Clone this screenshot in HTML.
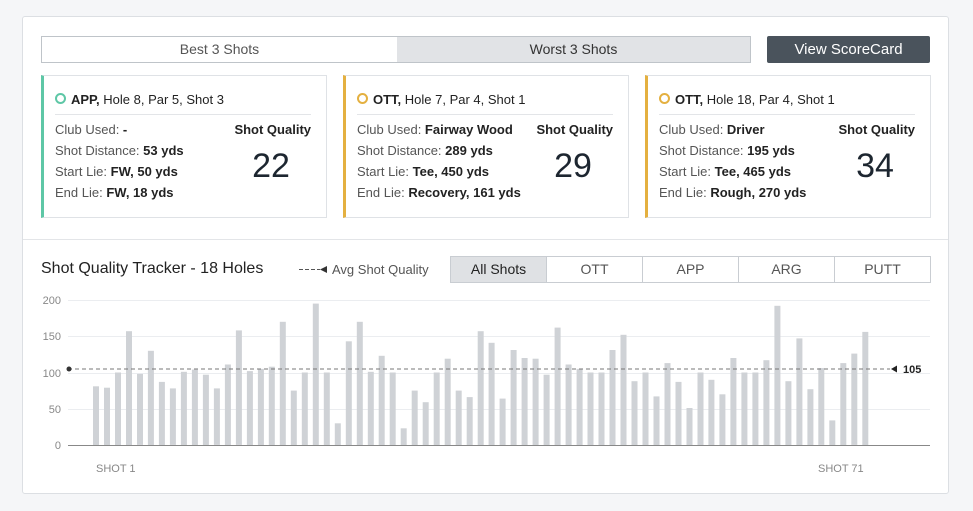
<!DOCTYPE html>
<html><head><meta charset="utf-8"><style>
body{margin:0;width:973px;height:511px;background:#f5f6f8;font-family:"Liberation Sans",sans-serif;position:relative;overflow:hidden;color:#333}
.a{position:absolute}
.card{position:absolute;left:22px;top:16px;width:925px;height:476px;background:#fff;border:1px solid #dcdfe3;border-radius:3px}
.sc{position:absolute;top:75px;width:282px;height:141px;background:#fff;border:1px solid #dfe2e6}
.sc .t{position:absolute;left:11px;top:16px;font-size:13px;color:#222}
.sc .t i{display:inline-block;width:7px;height:7px;border-radius:50%;border:2px solid;margin-right:5px;vertical-align:0px}
.sc .hr{position:absolute;left:11px;right:15px;top:38px;border-top:1px solid #e3e5e8}
.sc .r{position:absolute;left:11px;font-size:13px;color:#555}
.sc .r b{color:#222}
.sc .q{position:absolute;right:15px;top:46px;font-size:13px;font-weight:bold;color:#222}
.sc .n{position:absolute;right:15px;width:80px;text-align:center;top:71px;font-size:34px;color:#1d2630}
.tab{position:absolute;top:256px;height:25px;width:95px;border:1px solid #c9cdd2;font-size:14px;color:#555;text-align:center;line-height:25px;background:#fff}
</style></head><body>
<div class="card"></div>
<div class="a" style="left:41px;top:36px;width:355px;height:25px;border:1px solid #bfc4c9;background:#fff;font-size:14px;color:#555;text-align:center;line-height:25px">Best 3 Shots</div>
<div class="a" style="left:397px;top:36px;width:353px;height:25px;border:1px solid #bfc4c9;border-left:none;background:#e1e3e6;font-size:14px;color:#333;text-align:center;line-height:25px">Worst 3 Shots</div>
<div class="a" style="left:767px;top:36px;width:163px;height:27px;background:#4a535c;color:#fff;font-size:15px;text-align:center;line-height:27px;border-radius:2px">View ScoreCard</div>

<div class="sc" style="left:41px;border-left:3px solid #5ec7a6">
<div class="t"><i style="border-color:#5ec7a6"></i><b>APP,</b> Hole 8, Par 5, Shot 3</div><div class="hr"></div>
<div class="r" style="top:46px">Club Used: <b>-</b></div><div class="r" style="top:67px">Shot Distance: <b>53 yds</b></div><div class="r" style="top:88px">Start Lie: <b>FW, 50 yds</b></div><div class="r" style="top:109px">End Lie: <b>FW, 18 yds</b></div>
<div class="q">Shot Quality</div><div class="n">22</div></div>

<div class="sc" style="left:343px;border-left:3px solid #e4b040">
<div class="t"><i style="border-color:#e4b040"></i><b>OTT,</b> Hole 7, Par 4, Shot 1</div><div class="hr"></div>
<div class="r" style="top:46px">Club Used: <b>Fairway Wood</b></div><div class="r" style="top:67px">Shot Distance: <b>289 yds</b></div><div class="r" style="top:88px">Start Lie: <b>Tee, 450 yds</b></div><div class="r" style="top:109px">End Lie: <b>Recovery, 161 yds</b></div>
<div class="q">Shot Quality</div><div class="n">29</div></div>

<div class="sc" style="left:645px;border-left:3px solid #e4b040">
<div class="t"><i style="border-color:#e4b040"></i><b>OTT,</b> Hole 18, Par 4, Shot 1</div><div class="hr"></div>
<div class="r" style="top:46px">Club Used: <b>Driver</b></div><div class="r" style="top:67px">Shot Distance: <b>195 yds</b></div><div class="r" style="top:88px">Start Lie: <b>Tee, 465 yds</b></div><div class="r" style="top:109px">End Lie: <b>Rough, 270 yds</b></div>
<div class="q">Shot Quality</div><div class="n">34</div></div>

<div class="a" style="left:23px;top:239px;width:925px;border-top:1px solid #e3e5e8"></div>
<div class="a" style="left:41px;top:260px;font-size:16px;color:#222">Shot Quality Tracker - 18 Holes</div>
<div class="a" style="left:332px;top:262px;font-size:13px;color:#555">Avg Shot Quality</div>
<div class="tab" style="left:450px;background:#dfe1e4;color:#222">All Shots</div>
<div class="tab" style="left:546px">OTT</div>
<div class="tab" style="left:642px">APP</div>
<div class="tab" style="left:738px">ARG</div>
<div class="tab" style="left:834px">PUTT</div>

<svg class="a" style="left:0;top:0" width="973" height="511" font-family="Liberation Sans, sans-serif">
<line x1="299" x2="320" y1="269.5" y2="269.5" stroke="#555" stroke-dasharray="4,2"/>
<polygon points="320,269.5 327,266 327,273" fill="#333"/>
<g stroke="#ebedf0" stroke-width="1">
<line x1="68" x2="930" y1="300.5" y2="300.5"/><line x1="68" x2="930" y1="336.5" y2="336.5"/><line x1="68" x2="930" y1="373.5" y2="373.5"/><line x1="68" x2="930" y1="409.5" y2="409.5"/></g>
<g font-size="11" fill="#888" text-anchor="end">
<text x="61" y="304">200</text><text x="61" y="340">150</text><text x="61" y="377">100</text><text x="61" y="413">50</text><text x="61" y="449">0</text></g>
<g id="bars" fill="#cfd2d6"></g>
<line x1="68" x2="930" y1="445.5" y2="445.5" stroke="#888"/>
<line x1="68" x2="890" y1="369" y2="369" stroke="#777" stroke-dasharray="4,3"/>
<circle cx="69" cy="369" r="2.5" fill="#333"/>
<polygon points="891,369 897,365.5 897,372.5" fill="#222"/>
<text x="903" y="373" font-size="11" font-weight="bold" fill="#222">105</text>
<g font-size="11" fill="#888"><text x="96" y="472">SHOT 1</text><text x="818" y="472">SHOT 71</text></g>
</svg>
<script>
var v=[81,79,100,157,98,130,87,78,101,104,97,78,111,158,102,105,108,170,75,100,195,100,30,143,170,101,123,100,23,75,59,100,119,75,66,157,141,64,131,120,119,97,162,111,105,100,100,131,152,88,100,67,113,87,51,100,90,70,120,100,100,117,192,88,147,77,106,34,113,126,156];
var g=document.getElementById('bars'),s='';
for(var i=0;i<v.length;i++){var h=v[i]*0.725,x=93+i*10.99;s+='<rect x="'+x.toFixed(1)+'" y="'+(445-h).toFixed(1)+'" width="6" height="'+h.toFixed(1)+'"/>';}
g.innerHTML=s;
</script>
</body></html>
